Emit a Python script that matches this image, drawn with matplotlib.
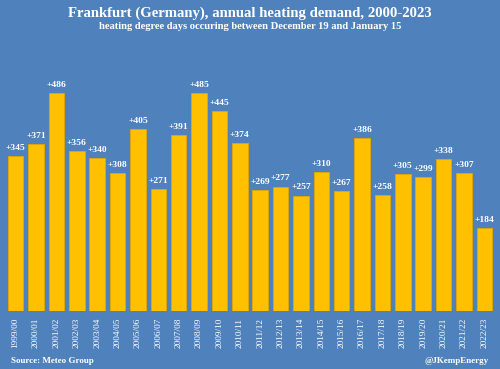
import matplotlib
matplotlib.use("Agg")
import matplotlib.pyplot as plt

seasons = ["1999/00", "2000/01", "2001/02", "2002/03", "2003/04", "2004/05", "2005/06",
           "2006/07", "2007/08", "2008/09", "2009/10", "2010/11", "2011/12", "2012/13",
           "2013/14", "2014/15", "2015/16", "2016/17", "2017/18", "2018/19", "2019/20",
           "2020/21", "2021/22", "2022/23"]
hdd = [345, 371, 486, 356, 340, 308, 405, 271, 391, 485, 445, 374, 269, 277,
       257, 310, 267, 386, 258, 305, 299, 338, 307, 184]

BG = "#4F81BD"
BAR = "#FFC000"
SERIF = ["Liberation Serif", "DejaVu Serif"]

fig = plt.figure(figsize=(5.0, 3.69), dpi=100, facecolor=BG)
ax = fig.add_axes([0.011, 0.157, 0.978, 0.734], facecolor=BG)

x = list(range(len(seasons)))
bars = ax.bar(x, hdd, width=0.76, color=BAR, edgecolor="#E3A800", linewidth=0.6)
for xi, v in zip(x, hdd):
    ax.annotate(f"+{v}", (xi, v), xytext=(0, 3), textcoords="offset points",
                ha="center", va="bottom", color="white", fontsize=6.8,
                fontweight="bold", family=SERIF)

ax.set_xlim(-0.5, len(seasons) - 0.5)
ax.set_ylim(0, 603)
ax.set_xticks(x)
ax.set_xticklabels(seasons, rotation=90, color="white", fontsize=6.7, family=SERIF)
ax.tick_params(axis="x", length=0, pad=5)
ax.set_yticks([])
for s in ax.spines.values():
    s.set_visible(False)

fig.text(0.5, 0.965, "Frankfurt (Germany), annual heating demand, 2000-2023",
         ha="center", va="center", color="white", fontsize=10.6, fontweight="bold", family=SERIF)
fig.text(0.5, 0.928, "heating degree days occuring between December 19 and January 15",
         ha="center", va="center", color="white", fontsize=7.6, fontweight="bold", family=SERIF)
fig.text(0.022, 0.012, "Source: Meteo Group", ha="left", va="bottom", color="white",
         fontsize=6.5, fontweight="bold", family=SERIF)
fig.text(0.978, 0.012, "@JKempEnergy", ha="right", va="bottom", color="white",
         fontsize=6.5, fontweight="bold", family=SERIF)

fig.savefig("out.png", dpi=100, facecolor=BG)
